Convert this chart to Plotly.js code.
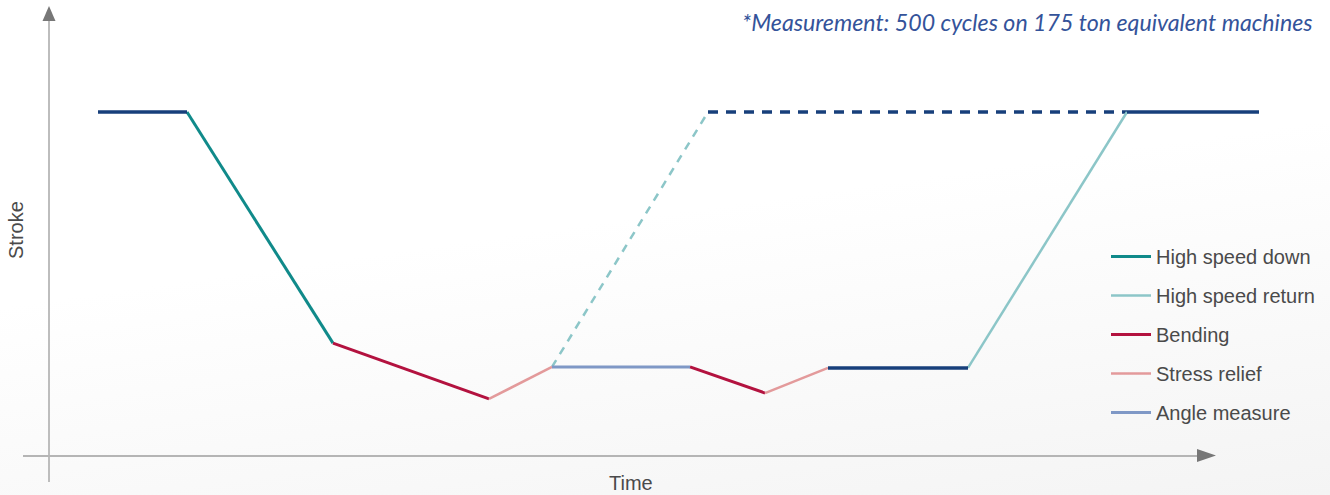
<!DOCTYPE html>
<html>
<head>
<meta charset="utf-8">
<script src="https://cdn.plot.ly/plotly-3.0.1.min.js"></script>
<style>
  html, body { margin: 0; padding: 0; }
  body {
    width: 1330px; height: 495px; overflow: hidden;
    background: linear-gradient(172deg, #ffffff 0%, #ffffff 45%, #f4f4f4 100%);
  }
  #chart { width: 1330px; height: 495px; }
</style>
</head>
<body>
<div id="chart"></div>
<script>
// ---- data (time units, stroke units) ----
const holdTime      = [49, 138, null, 779, 919, null, 1078, 1210];
const holdStroke    = [100, 100, null, 25.6, 25.6, null, 100, 100];
const downTime      = [138, 284];
const downStroke    = [100, 32.8];
const returnTime    = [919, 1078];
const returnStroke  = [25.6, 100];
const bendTime      = [284, 440, null, 641, 716];
const bendStroke    = [32.8, 16.6, null, 25.9, 18.3];
const reliefTime    = [440, 503, null, 716, 779];
const reliefStroke  = [16.6, 25.9, null, 18.3, 25.6];
const angleTime     = [503, 641];
const angleStroke   = [25.9, 25.9];
const altReturnTime   = [503, 659];
const altReturnStroke = [25.9, 100];
const altHoldTime     = [659, 1078];
const altHoldStroke   = [100, 100];

const seriesNames = ["High speed down", "High speed return", "Bending", "Stress relief", "Angle measure"];

const NAVY = "#173f7b", TEAL = "#108a8a", LTEAL = "#8cc6c8", CRIMSON = "#b3123f", PINK = "#e39a9b", STEEL = "#7f98c6";

const traces = [
  {x: altReturnTime, y: altReturnStroke, mode: "lines", line: {color: LTEAL, width: 2.5, dash: "8px,7px"}, showlegend: false, hoverinfo: "skip"},
  {x: altHoldTime, y: altHoldStroke, mode: "lines", line: {color: NAVY, width: 3.5, dash: "10px,8px"}, showlegend: false, hoverinfo: "skip"},
  {x: downTime, y: downStroke, name: seriesNames[0], mode: "lines", line: {color: TEAL, width: 3}, legendgroup: "a"},
  {x: returnTime, y: returnStroke, name: seriesNames[1], mode: "lines", line: {color: LTEAL, width: 2.5}, legendgroup: "b"},
  {x: bendTime, y: bendStroke, name: seriesNames[2], mode: "lines", line: {color: CRIMSON, width: 3}, legendgroup: "c"},
  {x: reliefTime, y: reliefStroke, name: seriesNames[3], mode: "lines", line: {color: PINK, width: 2.5}, legendgroup: "d"},
  {x: angleTime, y: angleStroke, name: seriesNames[4], mode: "lines", line: {color: STEEL, width: 3}, legendgroup: "e"},
  {x: holdTime, y: holdStroke, mode: "lines", line: {color: NAVY, width: 3.5}, showlegend: false, hoverinfo: "skip"}
];

const W = 1330, H = 495;
const px = v => v / W;
const py = v => 1 - v / H;

const layout = {
  width: W, height: H,
  margin: {l: 0, r: 0, t: 0, b: 0},
  paper_bgcolor: "rgba(0,0,0,0)",
  plot_bgcolor: "rgba(0,0,0,0)",
  xaxis: {range: [-49, 1281], visible: false, fixedrange: true},
  yaxis: {range: [-11.337, 132.558], visible: false, fixedrange: true},
  showlegend: true,
  legend: {
    x: px(1106), y: py(237), xanchor: "left", yanchor: "top",
    bgcolor: "rgba(0,0,0,0)",
    font: {family: "Liberation Sans, Arial, sans-serif", size: 20, color: "#4a4a4a"},
    tracegroupgap: 10,
    itemwidth: 40
  },
  shapes: [
    {type: "line", xref: "paper", yref: "paper", x0: px(49), x1: px(49), y0: py(482), y1: py(20), line: {color: "#bdbdbd", width: 2}},
    {type: "path", xref: "paper", yref: "paper",
     path: `M ${px(49)} ${py(6)} L ${px(42.5)} ${py(21)} L ${px(55.5)} ${py(21)} Z`,
     fillcolor: "#777777", line: {width: 0}},
    {type: "line", xref: "paper", yref: "paper", x0: px(23), x1: px(1200), y0: py(456), y1: py(456), line: {color: "#b5b5b5", width: 2}},
    {type: "path", xref: "paper", yref: "paper",
     path: `M ${px(1216)} ${py(455.5)} L ${px(1197)} ${py(449)} L ${px(1197)} ${py(462)} Z`,
     fillcolor: "#777777", line: {width: 0}}
  ],
  annotations: [
    {xref: "paper", yref: "paper", x: px(631), y: py(483), text: "Time", showarrow: false,
     xanchor: "center", yanchor: "middle",
     font: {family: "Liberation Sans, Arial, sans-serif", size: 20, color: "#4a4a4a"}},
    {xref: "paper", yref: "paper", x: px(16), y: py(230), text: "Stroke", showarrow: false, textangle: -90,
     xanchor: "center", yanchor: "middle",
     font: {family: "Liberation Sans, Arial, sans-serif", size: 20, color: "#4a4a4a"}},
    {xref: "paper", yref: "paper", x: px(1315), y: py(22), text: "<i>*Measurement: 500 cycles on 175 ton equivalent machines</i>",
     showarrow: false, xanchor: "right", yanchor: "middle",
     font: {family: "Lato, Open Sans, sans-serif", size: 23.2, color: "#34539a"}}
  ]
};

Plotly.newPlot("chart", traces, layout, {displayModeBar: false, staticPlot: true});
</script>
</body>
</html>
